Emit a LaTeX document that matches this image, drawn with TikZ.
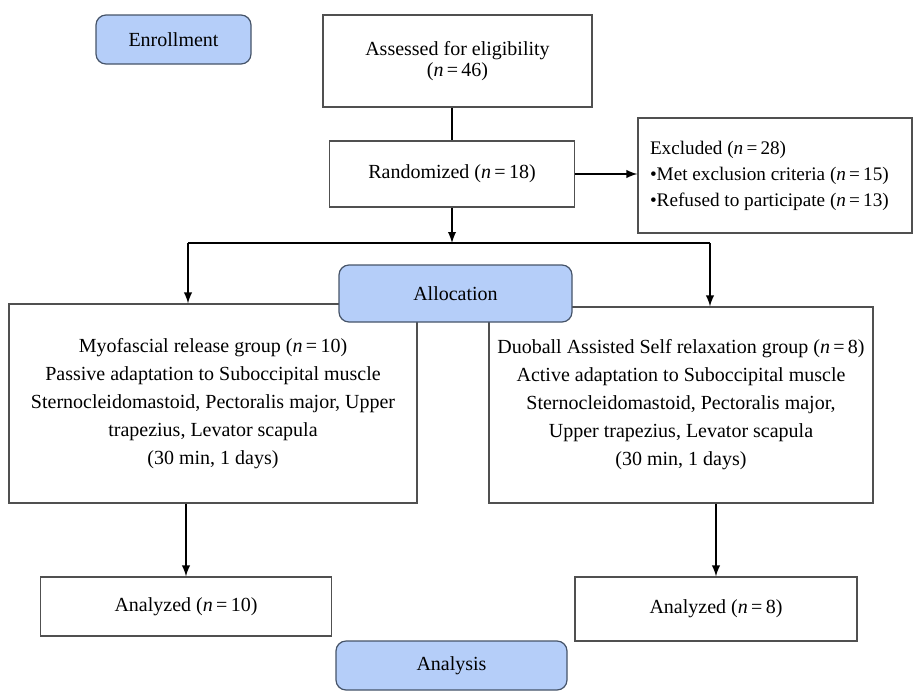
\documentclass[tikz,border=0pt]{standalone}
\usepackage{fontspec}
\setmainfont{Liberation Serif}
\usepackage{tikz}
\usetikzlibrary{arrows}
\definecolor{stageblue}{RGB}{181,206,249}
\definecolor{stageedge}{RGB}{70,84,105}
\definecolor{boxedge}{RGB}{80,80,80}
\newcommand{\nval}[1]{(\textit{n}\,=\,#1)}

\begin{document}
\begin{tikzpicture}[x=0.5pt,y=-0.5pt,>=latex,
  stage/.style={draw=stageedge,fill=stageblue,rounded corners=5pt,line width=0.6pt,inner sep=0pt},
  box/.style={draw=boxedge,fill=white,line width=0.6pt,inner sep=0pt,align=center},
  link/.style={line width=0.9pt}]
\useasboundingbox (0,0) rectangle (922,692);
\node[stage,minimum width=77.5pt,minimum height=24.5pt] (enroll) at (173.5,39.5) {Enrollment};
\node[box,minimum width=134.5pt,minimum height=46pt,font=\fontsize{10}{10.5}\selectfont] (assess) at (457.5,61)
  {Assessed for eligibility\\\nval{46}};
\node[box,minimum width=122.5pt,minimum height=33pt] (rand) at (452,174) {Randomized \nval{18}};
\node[box,minimum width=137pt,minimum height=57.5pt,text width=125pt,inner xsep=6pt,align=flush left,
  font=\fontsize{9.6}{13}\selectfont] (excl) at (775,175.5)
  {Excluded \nval{28}\\\textbullet Met exclusion criteria \nval{15}\\\textbullet Refused to participate \nval{13}};
\node[box,minimum width=204pt,minimum height=99.5pt,font=\fontsize{10}{14}\selectfont] (gleft) at (213,403.5)
  {Myofascial release group \nval{10}\\Passive adaptation to Suboccipital muscle\\
   Sternocleidomastoid, Pectoralis major, Upper\\trapezius, Levator scapula\\(30 min, 1 days)};
\node[box,minimum width=192pt,minimum height=98pt,font=\fontsize{10}{14}\selectfont] (gright) at (681,405)
  {Duoball Assisted Self relaxation group \nval{8}\\Active adaptation to Suboccipital muscle\\
   Sternocleidomastoid, Pectoralis major,\\Upper trapezius, Levator scapula\\(30 min, 1 days)};
\node[stage,minimum width=116.5pt,minimum height=28.5pt] (alloc) at (455.5,293.5) {Allocation};
\node[box,minimum width=145.5pt,minimum height=29.5pt] (anL) at (186,606.5) {Analyzed \nval{10}};
\node[box,minimum width=141pt,minimum height=32pt] (anR) at (716,609) {Analyzed \nval{8}};
\node[stage,minimum width=115.5pt,minimum height=24.5pt] (analysis) at (451.5,665.5) {Analysis};

\coordinate (split) at (452,243);
\coordinate (splitL) at (188,243);
\coordinate (splitR) at (710,243);

\draw[link] (rand.north |- assess.south) -- (rand.north);
\draw[link,->] (rand.east) -- (rand.east -| excl.west);
\draw[link,->] (rand.south) -- (split);
\draw[link] (splitL) -- (splitR);
\draw[link,->] (splitL) -- (splitL |- gleft.north);
\draw[link,->] (splitR) -- (splitR |- gright.north);
\draw[link,->] (anL.north |- gleft.south) -- (anL.north);
\draw[link,->] (anR.north |- gright.south) -- (anR.north);
\end{tikzpicture}
\end{document}
